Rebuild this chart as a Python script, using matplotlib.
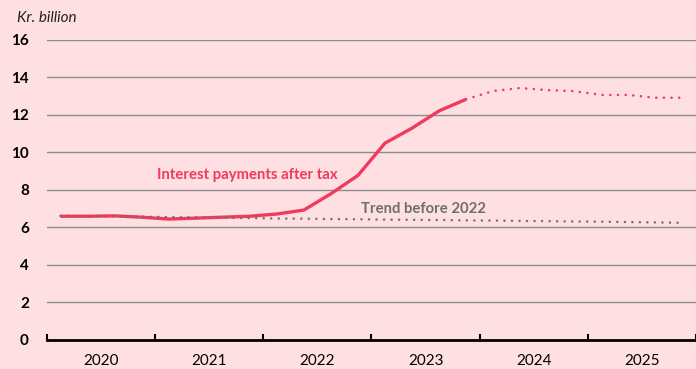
import numpy as np
import matplotlib.pyplot as plt
from matplotlib.ticker import FixedLocator, NullFormatter

# quarterly data, Kr. billion
years = [2020, 2021, 2022, 2023, 2024, 2025]
actual = [6.60, 6.60, 6.62, 6.55, 6.45, 6.50, 6.55, 6.60,
          6.72, 6.93, 7.80, 8.78, 10.50, 11.30, 12.22, 12.84]
forecast = [12.84, 13.28, 13.44, 13.33, 13.27, 13.07, 13.07, 12.92, 12.92]
trend = [6.62, 6.61, 6.60, 6.58, 6.56, 6.54, 6.52, 6.50,
         6.48, 6.47, 6.45, 6.44, 6.42, 6.41, 6.40, 6.38,
         6.37, 6.35, 6.34, 6.32, 6.31, 6.29, 6.27, 6.25]

red = '#F03A5F'
grey = '#6E6E6E'
bg = '#FFE0E2'

plt.rcParams['font.family'] = ['Lato', 'DejaVu Sans']

# x positions at quarter midpoints
q = 2020 + 0.125 + 0.25 * np.arange(24)

fig = plt.figure(figsize=(6.96, 3.69), dpi=100, facecolor=bg)
ax = fig.add_axes([0.0675, 0.0786, 0.9325, 0.813], facecolor=bg)

ax.plot(q[:16], actual, color=red, lw=2.4, solid_capstyle='butt', zorder=4)
ax.plot(q[15:], forecast, color=red, lw=1.9, linestyle=(0, (0.01, 2.9)),
        dash_capstyle='round', zorder=4)
# trend dots sit on top of the red line
ax.plot(q[:24], trend, color=grey, lw=1.8, linestyle=(0, (0.01, 3.0)),
        dash_capstyle='round', zorder=5)

ax.set_xlim(2020, 2026)
ax.set_ylim(0, 16)
ax.set_yticks(range(0, 17, 2))
ax.set_yticklabels([str(v) for v in range(0, 17, 2)], fontweight='bold', fontsize=11)
for v in range(2, 17, 2):
    ax.axhline(v, color='#8C8C8C', lw=1.0, zorder=1)

ax.xaxis.set_major_locator(FixedLocator(years + [2026]))
ax.xaxis.set_major_formatter(NullFormatter())
ax.xaxis.set_minor_locator(FixedLocator([y + 0.5 for y in years]))
ax.set_xticklabels([str(y) for y in years], minor=True, fontsize=11)
ax.tick_params(axis='x', which='major', direction='in', length=4, width=1.5, color='black')
ax.tick_params(axis='x', which='minor', length=0, pad=10)
ax.tick_params(axis='y', length=0, pad=13)

for s in ['top', 'right', 'left']:
    ax.spines[s].set_visible(False)
ax.spines['bottom'].set_linewidth(2)
ax.spines['bottom'].set_color('black')

ax.text(2021.02, 8.8, 'Interest payments after tax', color=red,
        fontweight='bold', fontsize=10.7, va='center', ha='left')
ax.text(2022.90, 6.99, 'Trend before 2022', color=grey,
        fontweight='bold', fontsize=10.7, va='center', ha='left')

fig.text(17 / 696, 1 - 18 / 369, 'Kr. billion', fontstyle='italic',
         fontsize=11, va='center', ha='left', color='#222222')

plt.savefig('out.png', dpi=100, facecolor=bg)
